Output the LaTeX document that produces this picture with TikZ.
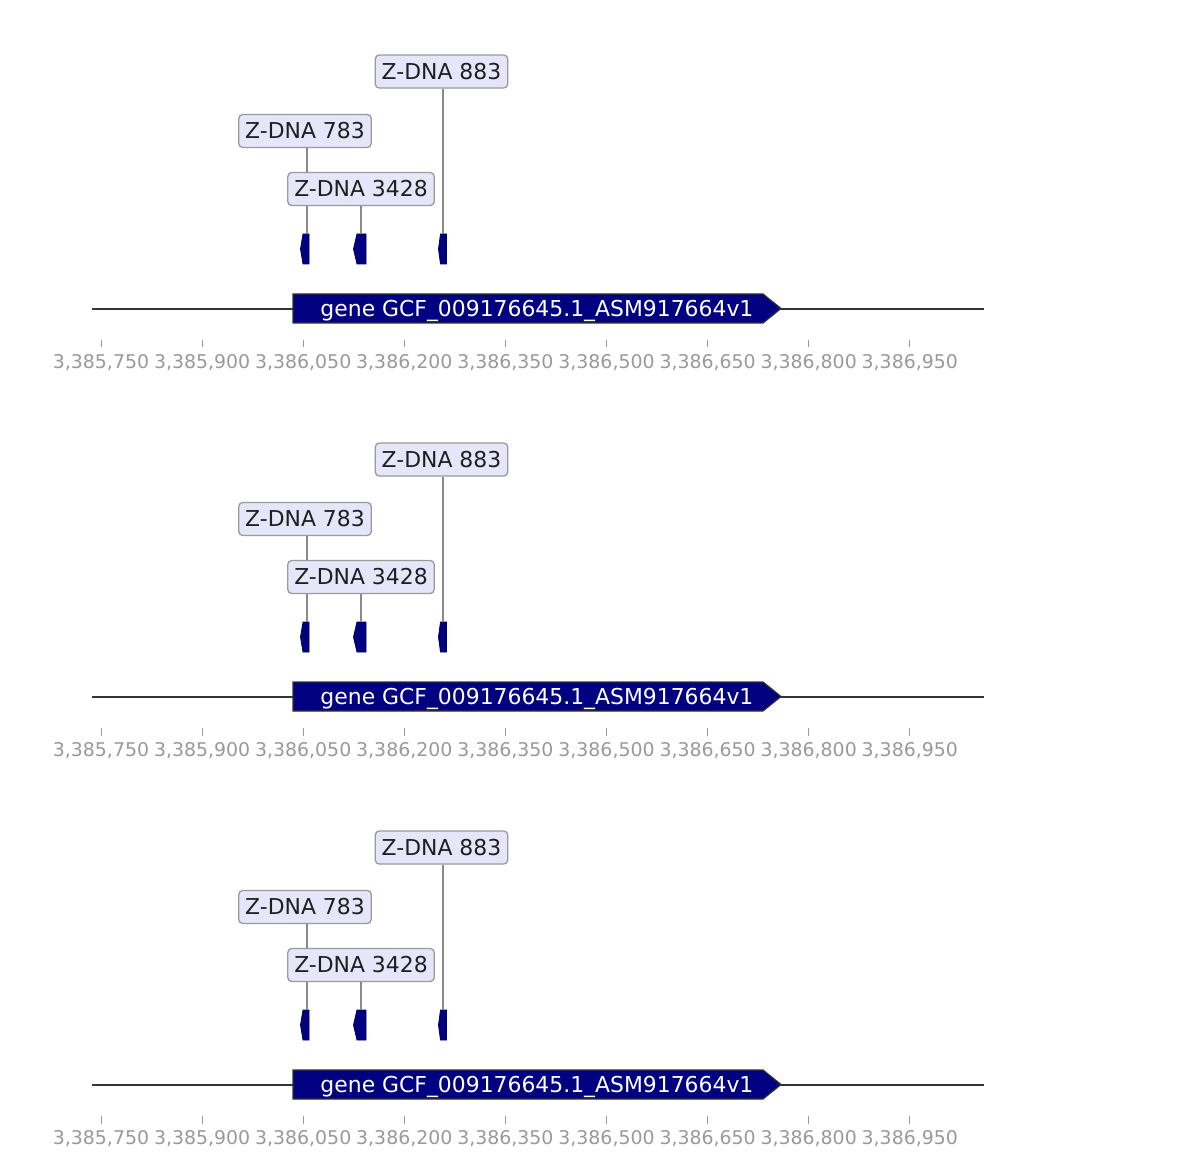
\documentclass[tikz,border=0pt]{standalone}
\usepackage{fontspec}
\setmainfont{DejaVu Sans}
\definecolor{navy}{HTML}{000080}
\definecolor{lav}{HTML}{E6E6FA}
\definecolor{boxedge}{HTML}{9A9A9A}
\definecolor{conn}{HTML}{8A8A8A}
\definecolor{axisline}{HTML}{333333}
\definecolor{ticktxt}{HTML}{999999}
\tikzset{
  lbl/.style={draw=boxedge, line width=1.3pt, fill=lav, rounded corners=4pt,
    inner xsep=6.5pt, inner ysep=0pt, minimum height=33pt, text=black!88,
    font=\fontsize{21.9}{24}\selectfont},
  conline/.style={draw=conn, line width=1.5pt},
  feat/.style={fill=navy, draw=navy!70!black, line width=0.8pt},
  genebody/.style={fill=navy, draw=black!80, line width=1.2pt},
  axis/.style={draw=axisline, line width=2.6pt},
  tickmark/.style={draw=ticktxt, line width=1pt},
  ticklab/.style={text=ticktxt, font=\fontsize{18.9}{21}\selectfont, inner sep=0pt},
  genelab/.style={text=white, font=\fontsize{21.9}{24}\selectfont, inner sep=0pt}
}
\begin{document}
\begin{tikzpicture}[x=1pt,y=-1pt]
\useasboundingbox (0,0) rectangle (1184,1158);
\foreach \p/\oy in {1/0,2/388,3/776}{
  \begin{scope}[shift={(0,\oy)}]
    % axis line
    \coordinate (axL\p) at (92,309);
    \coordinate (axR\p) at (984,309);
    \draw[axis] (axL\p) -- (axR\p);
    % gene arrow
    \draw[genebody] (293,294) -- (763,294) -- (781,308.5) -- (763,323) -- (293,323) -- cycle;
    \node[genelab] (gene\p) at (537,311) {gene GCF\_009176645.1\_ASM917664v1};
    % ticks
    \foreach \i/\t in {0/{3,385,750},1/{3,385,900},2/{3,386,050},3/{3,386,200},4/{3,386,350},5/{3,386,500},6/{3,386,650},7/{3,386,800},8/{3,386,950}}{
      \pgfmathsetmacro{\tx}{101+101.1*\i}
      \coordinate (tk\p-\i) at (\tx,340);
      \draw[tickmark] (tk\p-\i) -- ++(0,7.5);
      \node[ticklab] (tl\p-\i) at (\tx,362.5) {\t};
    }
    % features
    \draw[feat] (303,234) -- (309,234) -- (309,264) -- (303,264) -- (300.5,249) -- cycle;
    \draw[feat] (357,234) -- (366,234) -- (366,264) -- (357,264) -- (353.5,249) -- cycle;
    \draw[feat] (440.5,234) -- (446.5,234) -- (446.5,264) -- (440.5,264) -- (438.5,249) -- cycle;
    \coordinate (fa\p) at (307,234);
    \coordinate (fb\p) at (361,234);
    \coordinate (fc\p) at (443,234);
    % labels
    \node[lbl] (z883\p) at (441.5,71.5) {Z-DNA 883};
    \node[lbl] (z783\p) at (305,131) {Z-DNA 783};
    \path (z783\p.south -| fa\p) coordinate (z783s\p);
    \path (z883\p.south -| fc\p) coordinate (z883s\p);
    \draw[conline] (z783s\p) -- (fa\p);
    \draw[conline] (z883s\p) -- (fc\p);
    \node[lbl] (z3428\p) at (361,189) {Z-DNA 3428};
    \path (z3428\p.south -| fb\p) coordinate (z3428s\p);
    \draw[conline] (z3428s\p) -- (fb\p);
  \end{scope}
}
\end{tikzpicture}
\end{document}
